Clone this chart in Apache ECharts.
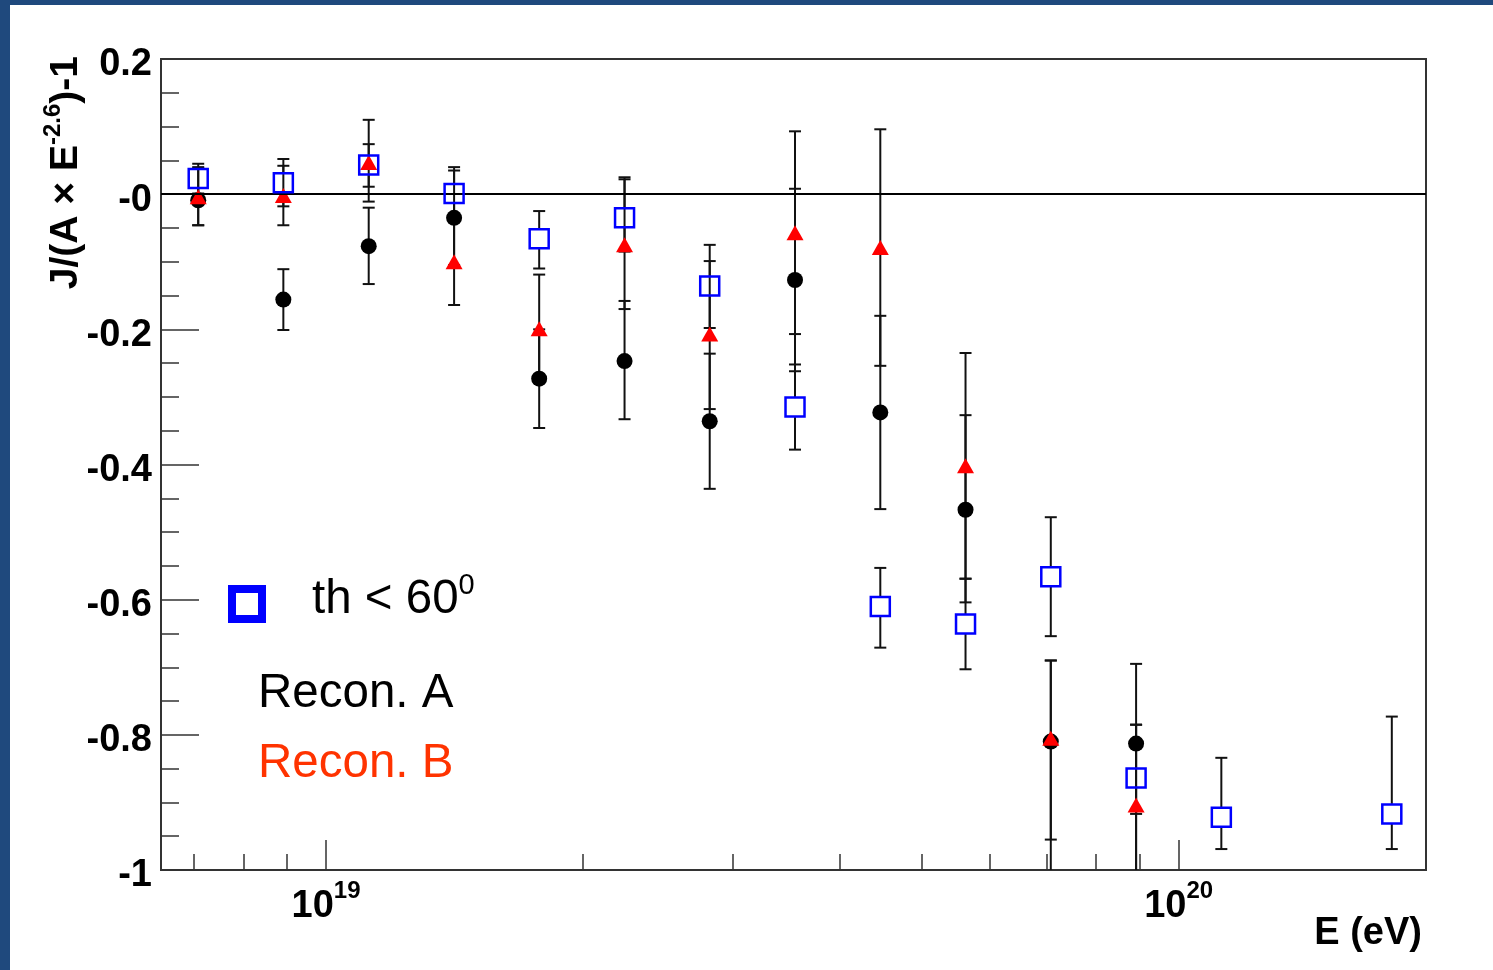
<!DOCTYPE html>
<html><head><meta charset="utf-8">
<script src="https://cdn.jsdelivr.net/npm/echarts@6/dist/echarts.min.js"></script>
<style>html,body{margin:0;padding:0;background:#fff;}#c{width:1493px;height:970px;}</style>
</head><body><div id="c"></div>
<script>
// Energy bin centres (eV)
const energies = [7.08e18, 8.91e18, 1.122e19, 1.413e19, 1.778e19, 2.239e19, 2.818e19, 3.548e19, 4.467e19, 5.623e19, 7.079e19, 8.913e19, 1.122e20, 1.778e20];
// Recon. A (black circles)
const reconA        = [-0.009, -0.156, -0.077, -0.035, -0.273, -0.247, -0.336, -0.127, -0.323, -0.467, -0.810, -0.813, null, null];
const reconAErrUp   = [0.049, 0.045, 0.057, 0.070, 0.073, 0.089, 0.100, 0.135, 0.143, 0.140, 0.120, 0.118, null, null];
const reconAErrDown = [0.037, 0.045, 0.056, 0.070, 0.073, 0.086, 0.100, 0.135, 0.143, 0.137, 0.145, 0.200, null, null];
// Recon. B (red triangles)
const reconB        = [-0.004, -0.002, 0.047, -0.100, -0.199, -0.075, -0.207, -0.057, -0.079, -0.402, -0.805, -0.904, null, null];
const reconBErrUp   = [0.042, 0.044, 0.063, 0.064, 0.080, 0.097, 0.132, 0.150, 0.175, 0.167, 0.115, 0.119, null, null];
const reconBErrDown = [0.042, 0.044, 0.058, 0.064, 0.080, 0.095, 0.111, 0.150, 0.175, 0.167, 0.200, 0.200, null, null];
// th < 60 deg (blue open squares)
const thLt60        = [0.023, 0.017, 0.043, 0.001, -0.066, -0.035, -0.136, -0.315, -0.610, -0.636, -0.566, -0.864, -0.922, -0.917];
const thErrUp       = [0.022, 0.035, 0.031, 0.039, 0.041, 0.060, 0.037, 0.063, 0.057, 0.067, 0.088, 0.079, 0.088, 0.144];
const thErrDown     = [0.022, 0.035, 0.032, 0.039, 0.044, 0.050, 0.062, 0.063, 0.061, 0.067, 0.088, 0.053, 0.047, 0.052];
// Axes
const xMajorTicks = [1e19, 1e20];
const xMinorTicks = [7e18, 8e18, 9e18, 2e19, 3e19, 4e19, 5e19, 6e19, 7e19, 8e19, 9e19];
const X_MIN = 6.403e18, X_MAX = 1.95e20;
const Y_MIN = -1, Y_MAX = 0.2, Y_STEP = 0.2;

const FONT = '"Liberation Sans", Arial, Helvetica, sans-serif';
const INK = '#111';

function pairs(vals) {
  const out = [];
  energies.forEach((e, i) => { if (vals[i] != null) out.push([e, vals[i]]); });
  return out;
}
function errorBars(name, vals, up, down, gap, z) {
  const data = [];
  energies.forEach((e, i) => { if (vals[i] != null) data.push([e, vals[i], vals[i] + up[i], vals[i] - down[i]]); });
  return {
    type: 'custom', name: name + ' err', data, z, silent: true,
    encode: { x: 0, y: [1, 2, 3] },
    renderItem(params, api) {
      const x = api.value(0), y = api.value(1);
      const hiRaw = api.value(2), loRaw = api.value(3);
      const hiV = Math.min(hiRaw, Y_MAX), loV = Math.max(loRaw, Y_MIN);
      const c = api.coord([x, y]);
      const hi = api.coord([x, hiV]);
      const lo = api.coord([x, loV]);
      const style = { stroke: INK, lineWidth: 2 };
      const cw = 6;
      const ch = [];
      if (hi[1] < c[1] - gap) ch.push({ type: 'line', shape: { x1: c[0], y1: c[1] - gap, x2: c[0], y2: hi[1] }, style });
      if (lo[1] > c[1] + gap) ch.push({ type: 'line', shape: { x1: c[0], y1: c[1] + gap, x2: c[0], y2: lo[1] }, style });
      if (hiRaw <= Y_MAX) ch.push({ type: 'line', shape: { x1: c[0] - cw, y1: hi[1], x2: c[0] + cw, y2: hi[1] }, style });
      if (loRaw >= Y_MIN) ch.push({ type: 'line', shape: { x1: c[0] - cw, y1: lo[1], x2: c[0] + cw, y2: lo[1] }, style });
      return { type: 'group', children: ch };
    }
  };
}

const chart = echarts.init(document.getElementById('c'), null, { renderer: 'canvas' });
chart.setOption({
  backgroundColor: '#fff',
  animation: false,
  grid: { left: 161, top: 59, right: 67, bottom: 100, show: true, borderColor: '#333', borderWidth: 2, backgroundColor: '#fff' },
  xAxis: [
    {
      type: 'log', logBase: 10, min: X_MIN, max: X_MAX, position: 'bottom',
      axisLine: { show: false, onZero: false }, splitLine: { show: false },
      axisTick: { inside: true, length: 30, customValues: xMajorTicks, lineStyle: { color: '#333', width: 1.5 } },
      axisLabel: {
        customValues: xMajorTicks, margin: 9, color: '#000',
        formatter: v => '{b|10}{s|' + Math.round(Math.log10(v)) + '}',
        rich: {
          b: { fontFamily: FONT, fontWeight: 'bold', fontSize: 38, color: '#000', lineHeight: 56 },
          s: { fontFamily: FONT, fontWeight: 'bold', fontSize: 24, color: '#000', lineHeight: 24, verticalAlign: 'top' }
        }
      }
    },
    {
      type: 'log', logBase: 10, min: X_MIN, max: X_MAX, position: 'bottom', offset: 0,
      axisLine: { show: false, onZero: false }, splitLine: { show: false }, axisLabel: { show: false },
      axisTick: { inside: true, length: 16, customValues: xMinorTicks, lineStyle: { color: '#333', width: 1.5 } }
    }
  ],
  yAxis: {
    type: 'value', min: Y_MIN, max: Y_MAX, interval: Y_STEP,
    axisLine: { show: false, onZero: false }, splitLine: { show: false },
    axisTick: { inside: true, length: 38, lineStyle: { color: '#333', width: 1.5 } },
    minorTick: { show: true, splitNumber: 4, length: 18, lineStyle: { color: '#333', width: 1.5 } },
    minorSplitLine: { show: false },
    axisLabel: {
      margin: 9,
      formatter: v => { const r = Math.round(v * 10) / 10; return '{v|' + (r === 0 ? '-0' : String(r)) + '}'; },
      rich: { v: { fontFamily: FONT, fontWeight: 'bold', fontSize: 38, color: '#000', padding: [12, 0, 0, 0] } }
    }
  },
  series: [
    errorBars('A', reconA, reconAErrUp, reconAErrDown, 0, 2),
    errorBars('B', reconB, reconBErrUp, reconBErrDown, 0, 2),
    errorBars('th', thLt60, thErrUp, thErrDown, 10, 2),
    {
      type: 'scatter', name: 'Recon. A', data: pairs(reconA), z: 3,
      symbol: 'circle', symbolSize: 16, itemStyle: { color: '#000', opacity: 1 },
      markLine: {
        silent: true, symbol: 'none', label: { show: false },
        lineStyle: { color: '#000', width: 2, type: 'solid' },
        data: [{ yAxis: 0 }]
      }
    },
    {
      type: 'scatter', name: 'Recon. B', data: pairs(reconB), z: 4,
      symbol: 'triangle', symbolSize: [17, 15], itemStyle: { color: '#ff0000', opacity: 1 }
    },
    {
      type: 'scatter', name: 'th < 60', data: pairs(thLt60), z: 5,
      symbol: 'rect', symbolSize: 19,
      itemStyle: { color: 'rgba(0,0,0,0)', borderColor: '#0000ff', borderWidth: 2.5, opacity: 1 }
    }
  ],
  graphic: [
    { type: 'rect', shape: { x: 0, y: 0, width: 10, height: 970 }, style: { fill: '#1f497d' }, silent: true },
    { type: 'rect', shape: { x: 0, y: 0, width: 1493, height: 5 }, style: { fill: '#1f497d' }, silent: true },
    {
      type: 'text', x: 66, y: 56, rotation: Math.PI / 2, silent: true,
      style: {
        text: '{m|J/(A × E}{s|-2.6}{m|)-1}', align: 'right', verticalAlign: 'middle',
        rich: {
          m: { fontFamily: FONT, fontWeight: 'bold', fontSize: 39, fill: '#000', lineHeight: 50 },
          s: { fontFamily: FONT, fontWeight: 'bold', fontSize: 24, fill: '#000', lineHeight: 24, verticalAlign: 'top' }
        }
      }
    },
    {
      type: 'text', x: 1422, y: 934, silent: true,
      style: { text: 'E (eV)', align: 'right', verticalAlign: 'middle', fontFamily: FONT, fontWeight: 'bold', fontSize: 38, fill: '#000' }
    },
    { type: 'rect', shape: { x: 232, y: 589, width: 30, height: 30 }, style: { fill: 'none', stroke: '#0000ff', lineWidth: 8 }, silent: true },
    {
      type: 'text', x: 312, y: 600, silent: true,
      style: {
        text: '{m|th < 60}{s|0}', align: 'left', verticalAlign: 'middle',
        rich: {
          m: { fontFamily: FONT, fontSize: 47.5, fill: '#000', lineHeight: 58 },
          s: { fontFamily: FONT, fontSize: 29, fill: '#000', lineHeight: 29, verticalAlign: 'top' }
        }
      }
    },
    { type: 'text', x: 258, y: 694, silent: true, style: { text: 'Recon. A', align: 'left', verticalAlign: 'middle', fontFamily: FONT, fontSize: 47.5, fill: '#000' } },
    { type: 'text', x: 258, y: 764, silent: true, style: { text: 'Recon. B', align: 'left', verticalAlign: 'middle', fontFamily: FONT, fontSize: 47.5, fill: '#ff3300' } }
  ]
});
</script>
</body></html>
